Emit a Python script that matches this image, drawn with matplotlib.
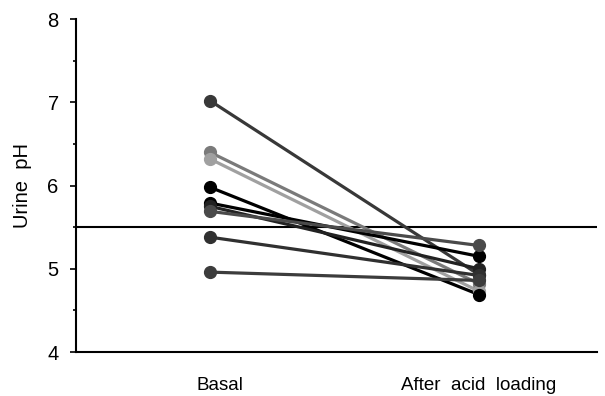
import numpy as np
import matplotlib
matplotlib.use('Agg')
import matplotlib.pyplot as plt
from matplotlib.ticker import MultipleLocator

plt.rcParams['font.family'] = ['Liberation Sans', 'DejaVu Sans']

groups = ['Basal', 'After  acid  loading']
basal = [7.02, 6.40, 6.32, 5.98, 5.79, 5.75, 5.69, 5.38, 4.96]
after = [4.93, 4.82, 4.73, 4.69, 5.15, 5.00, 5.28, 4.92, 4.86]
shades = ['#383838', '#7a7a7a', '#a0a0a0', '#000000', '#000000',
          '#222222', '#4a4a4a', '#303030', '#3c3c3c']
cutoff = 5.5

fig = plt.figure(figsize=(6.05, 3.96), dpi=100)
ax = fig.add_axes([0.1256, 0.111, 0.861, 0.841])

x = [0, 1]
for b, a, c in zip(basal, after, shades):
    ax.plot(x, [b, a], '-', color=c, lw=2.3, zorder=2)
for b, a, c in zip(basal, after, shades):
    ax.plot(x, [b, a], 'o', color=c, ms=8.5, zorder=3)

ax.axhline(cutoff, color='black', lw=1.5, zorder=1)

ax.set_xlim(-0.498, 1.439)
ax.set_ylim(4, 8)
ax.yaxis.set_major_locator(MultipleLocator(1))
ax.yaxis.set_minor_locator(MultipleLocator(0.5))
ax.set_xticks([])
# group labels under the axis
label_x = [0.037, 1.0]
for lx, g in zip(label_x, groups):
    ax.text(lx, -0.115, g, transform=ax.get_xaxis_transform(),
            ha='center', va='baseline', fontsize=13.5)
ax.tick_params(axis='y', which='major', length=4.5, width=1.2, pad=8, labelsize=14.5)
ax.tick_params(axis='y', which='minor', length=2, width=1.2)
ax.set_ylabel('Urine  pH', fontsize=14.5, labelpad=11)

for s in ['top', 'right']:
    ax.spines[s].set_visible(False)
for s in ['left', 'bottom']:
    ax.spines[s].set_linewidth(1.5)

fig.savefig('out.png', dpi=100)
